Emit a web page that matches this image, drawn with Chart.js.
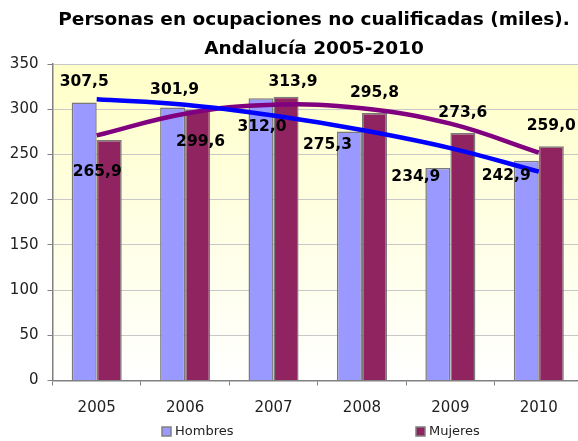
<!DOCTYPE html>
<html>
<head>
<meta charset="utf-8">
<title>Personas en ocupaciones no cualificadas</title>
<script src="https://cdn.jsdelivr.net/npm/chart.js@4.4.0/dist/chart.umd.min.js"></script>
<style>
    html, body { margin: 0; padding: 0; background: #fff; overflow: hidden; }
    #wrap { position: relative; width: 590px; height: 441px; }
</style>
</head>
<body>
<div id="wrap">
    <canvas id="chart" width="590" height="441"></canvas>
</div>
<script>
// --- Data ---
const years = ['2005', '2006', '2007', '2008', '2009', '2010'];
const hombres = [307.5, 301.9, 312.0, 275.3, 234.9, 242.9];
const mujeres = [265.9, 299.6, 313.9, 295.8, 273.6, 259.0];
// polynomial trend lines at each year
const tendHombres = [311, 305, 293, 277, 257, 231];
const tendMujeres = [271, 295, 305, 301, 284, 252];
const yTicks = [0, 50, 100, 150, 200, 250, 300, 350];

// label placement (dx, dy from the top centre of each bar)
const offHombres = [[0, -20], [2, -18], [1, 29], [-22, 13], [-22, 9], [-20, 15]];
const offMujeres = [[-12, 32], [3, 32], [7, -15], [0, -20], [0, -20], [0, -20]];

const titleLines = ['Personas en ocupaciones no cualificadas (miles).', 'Andalucía 2005-2010'];
const FONT = 'DejaVu Sans, Verdana, sans-serif';

function fmt(v) {
    return v.toFixed(1).replace('.', ',');
}

// plot background: pale yellow fading to white
const plotBackground = {
    id: 'plotBackground',
    beforeDraw(chart) {
        const { ctx, chartArea: a } = chart;
        const g = ctx.createLinearGradient(0, a.top, 0, a.bottom);
        g.addColorStop(0, '#FFFFC8');
        g.addColorStop(1, '#FFFFFF');
        ctx.save();
        ctx.fillStyle = g;
        ctx.fillRect(a.left, a.top, a.right - a.left, a.bottom - a.top);
        ctx.restore();
    }
};

// title, value labels and legend
const extras = {
    id: 'extras',
    afterDraw(chart) {
        const ctx = chart.ctx;
        ctx.save();

        // title
        ctx.fillStyle = '#000';
        ctx.font = 'bold 18.5px ' + FONT;
        ctx.textAlign = 'center';
        ctx.textBaseline = 'alphabetic';
        ctx.fillText(titleLines[0], 314, 25);
        ctx.fillText(titleLines[1], 314, 54);

        // value labels
        ctx.textBaseline = 'middle';
        ctx.font = 'bold 15.5px ' + FONT;
        [[0, offHombres], [1, offMujeres]].forEach(([di, offs]) => {
            const meta = chart.getDatasetMeta(di);
            const vals = chart.data.datasets[di].data;
            meta.data.forEach((bar, i) => {
                ctx.fillText(fmt(vals[i]), bar.x + offs[i][0], bar.y + offs[i][1]);
            });
        });

        // legend
        ctx.font = '13px ' + FONT;
        ctx.textAlign = 'left';
        const items = [[0, 162], [1, 416]];
        items.forEach(([di, x]) => {
            const ds = chart.data.datasets[di];
            ctx.fillStyle = ds.backgroundColor;
            ctx.fillRect(x, 427, 9, 9);
            ctx.strokeStyle = '#808080';
            ctx.lineWidth = 1.5;
            ctx.strokeRect(x, 427, 9, 9);
            ctx.fillStyle = '#222';
            ctx.fillText(ds.label, x + 13, 432);
        });

        ctx.restore();
    }
};

const ctx = document.getElementById('chart').getContext('2d');
new Chart(ctx, {
    type: 'bar',
    data: {
        labels: years,
        datasets: [
            {
                label: 'Hombres',
                data: hombres,
                backgroundColor: '#9999FF',
                borderColor: '#7A7A7A',
                borderWidth: 1.5,
                order: 2
            },
            {
                label: 'Mujeres',
                data: mujeres,
                backgroundColor: '#8F2461',
                borderColor: '#7A7A7A',
                borderWidth: 1.5,
                order: 2
            },
            {
                type: 'line',
                label: 'Tendencia Hombres',
                data: tendHombres,
                borderColor: '#0000FF',
                borderWidth: 4.5,
                pointRadius: 0,
                tension: 0.4,
                fill: false,
                order: 1
            },
            {
                type: 'line',
                label: 'Tendencia Mujeres',
                data: tendMujeres,
                borderColor: '#800080',
                borderWidth: 4.5,
                pointRadius: 0,
                tension: 0.4,
                fill: false,
                order: 1
            }
        ]
    },
    options: {
        responsive: false,
        animation: false,
        layout: { padding: { top: 64, right: 7, bottom: 0, left: 0 } },
        datasets: {
            bar: { categoryPercentage: 0.566, barPercentage: 1.0 }
        },
        plugins: {
            legend: { display: false },
            title: { display: false },
            tooltip: { enabled: false }
        },
        scales: {
            x: {
                afterFit(scale) { scale.height = 60.5; },
                grid: {
                    drawOnChartArea: false,
                    drawTicks: true,
                    tickLength: 5,
                    tickColor: '#808080',
                    offset: true
                },
                border: { color: '#808080', width: 1.5 },
                ticks: {
                    color: '#222',
                    padding: 14,
                    font: { family: FONT, size: 15 }
                }
            },
            y: {
                min: 0,
                max: 350,
                afterFit(scale) { scale.width = 52.5; },
                afterBuildTicks(scale) { scale.ticks = yTicks.map(v => ({ value: v })); },
                grid: {
                    color: '#C8C8C8',
                    lineWidth: 1,
                    tickLength: 5,
                    tickColor: '#808080'
                },
                border: { color: '#808080', width: 1.5 },
                ticks: {
                    color: '#222',
                    padding: 9,
                    font: { family: FONT, size: 15 }
                }
            }
        }
    },
    plugins: [plotBackground, extras]
});
</script>
</body>
</html>
